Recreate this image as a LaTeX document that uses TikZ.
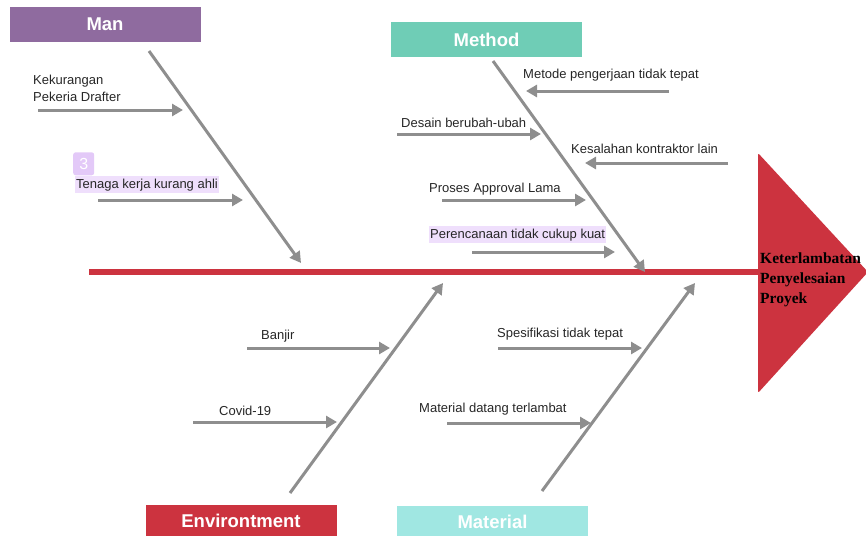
\documentclass[tikz,border=0pt]{standalone}
\usepackage{fontspec}
\setmainfont{Liberation Sans}
\newfontfamily\headfont{Liberation Serif}
\usetikzlibrary{arrows.meta}
\definecolor{bone}{HTML}{8E8E8E}
\definecolor{spinered}{HTML}{CC333F}
\definecolor{manc}{HTML}{8F6B9F}
\definecolor{methc}{HTML}{6FCDB6}
\definecolor{envc}{HTML}{CC333F}
\definecolor{matc}{HTML}{A0E7E2}
\definecolor{hl}{HTML}{EFDFFC}
\definecolor{badge}{HTML}{E3C9F8}
\tikzset{
  catbox/.style={draw=white, line width=0.6pt, minimum width=192pt, minimum height=36pt, inner sep=0pt,
    text=white, font=\fontsize{18.5}{20}\selectfont\bfseries},
  arr/.style={draw=bone, line width=3pt, -{Triangle[length=11pt,width=12pt]}},
  lbl/.style={anchor=base west, inner sep=0pt, font=\fontsize{13}{15}\selectfont, text=black!85},
  hlbl/.style={lbl, fill=hl, inner xsep=1pt, inner ysep=2.5pt},
  headtxt/.style={anchor=base west, inner sep=0pt, font=\headfont\fontsize{15.5}{18}\selectfont\bfseries},
}
\begin{document}
\begin{tikzpicture}[x=1pt,y=-1pt]
\useasboundingbox (0,0) rectangle (866,535);
% category boxes
\node[catbox, fill=manc] (man) at (105,24.5) {Man};
\node[catbox, fill=methc] (method) at (486.5,39.5) {Method};
\node[catbox, fill=envc, minimum height=34pt, anchor=north] (env) at (241,504) {\raisebox{-4pt}{Environtment}};
\node[catbox, fill=matc, minimum height=34pt, anchor=north] (mat) at (492.5,505) {\raisebox{-4pt}{Material}};
% spine and head
\coordinate (sp0) at (89,272);
\coordinate (sp1) at (765,272);
\draw[spinered, line width=5.5pt] (sp0) -- (sp1);
\fill[spinered, rounded corners=2pt] (758,153) -- (868,272) -- (758,393) -- cycle;
\node[headtxt] (h1) at (760,263) {Keterlambatan};
\node[headtxt] (h2) at (760,283) {Penyelesaian};
\node[headtxt] (h3) at (760,303) {Proyek};
% main bones
\coordinate (manS) at (149,51);   \coordinate (manE) at (301,263);
\coordinate (metS) at (493,61);   \coordinate (metE) at (645,272);
\coordinate (envS) at (290,493);  \coordinate (envE) at (443,283);
\coordinate (matS) at (542,491);  \coordinate (matE) at (695,283);
\draw[arr] (manS) -- (manE);
\draw[arr] (metS) -- (metE);
\draw[arr] (envS) -- (envE);
\draw[arr] (matS) -- (matE);
% Man causes
\node[lbl] (t1a) at (33,84) {Kekurangan};
\node[lbl] (t1b) at (33,101) {Pekeria Drafter};
\coordinate (a1s) at (38,110); \coordinate (a1e) at (183,110);
\draw[arr] (a1s) -- (a1e);
\node[fill=badge, rounded corners=2.5pt, minimum width=21pt, minimum height=23pt, inner sep=0pt,
  text=white, font=\fontsize{16}{18}\selectfont, anchor=south west] (badge3) at (73,175.5) {3};
\node[hlbl] (t2) at (75,188) {Tenaga kerja kurang ahli};
\coordinate (a2s) at (98,200); \coordinate (a2e) at (243,200);
\draw[arr] (a2s) -- (a2e);
% Method causes
\node[lbl] (t3) at (523,78) {Metode pengerjaan tidak tepat};
\coordinate (a3s) at (669,91); \coordinate (a3e) at (526,91);
\draw[arr] (a3s) -- (a3e);
\node[lbl] (t4) at (401,127) {Desain berubah-ubah};
\coordinate (a4s) at (397,134); \coordinate (a4e) at (541,134);
\draw[arr] (a4s) -- (a4e);
\node[lbl] (t5) at (571,153) {Kesalahan kontraktor lain};
\coordinate (a5s) at (728,163); \coordinate (a5e) at (585,163);
\draw[arr] (a5s) -- (a5e);
\node[lbl] (t6) at (429,192) {Proses Approval Lama};
\coordinate (a6s) at (442,200); \coordinate (a6e) at (586,200);
\draw[arr] (a6s) -- (a6e);
\node[hlbl] (t7) at (429,238) {Perencanaan tidak cukup kuat};
\coordinate (a7s) at (472,252); \coordinate (a7e) at (615,252);
\draw[arr] (a7s) -- (a7e);
% Environment causes
\node[lbl] (t8) at (261,339) {Banjir};
\coordinate (a8s) at (247,348); \coordinate (a8e) at (390,348);
\draw[arr] (a8s) -- (a8e);
\node[lbl] (t9) at (219,415) {Covid-19};
\coordinate (a9s) at (193,422); \coordinate (a9e) at (337,422);
\draw[arr] (a9s) -- (a9e);
% Material causes
\node[lbl] (t10) at (497,337) {Spesifikasi tidak tepat};
\coordinate (a10s) at (498,348); \coordinate (a10e) at (642,348);
\draw[arr] (a10s) -- (a10e);
\node[lbl] (t11) at (419,412) {Material datang terlambat};
\coordinate (a11s) at (447,423); \coordinate (a11e) at (591,423);
\draw[arr] (a11s) -- (a11e);
\end{tikzpicture}
\end{document}
